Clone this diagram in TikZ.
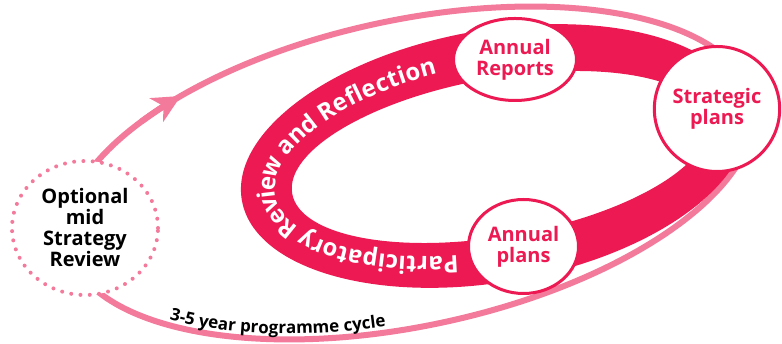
\documentclass[tikz,border=0pt]{standalone}
\usepackage{fontspec}
\setmainfont{Open Sans}
\usetikzlibrary{shapes.geometric, decorations.text, arrows.meta}
\definecolor{bandred}{RGB}{237,25,82}
\definecolor{pinkline}{RGB}{243,122,155}
\begin{document}
\begin{tikzpicture}[x=1pt,y=1pt,
  nodetext/.style={font=\bfseries\fontsize{20}{21}\selectfont, align=center, inner sep=0pt},
  stage/.style={ellipse, draw=bandred, line width=3pt, fill=white, text=bandred, nodetext},
  cycleline/.style={draw=pinkline, line width=6pt},
]
\useasboundingbox (0,0) rectangle (782,344);
% outer programme cycle
\draw[cycleline] (410,171) ellipse[x radius=350, y radius=153, rotate=12];
\begin{scope}[shift={(410,171)}, rotate=12]
  \draw[cycleline, -{Stealth[length=28pt,width=27pt,inset=8pt]}]
    (136:350 and 153) arc[start angle=136, end angle=126.5, x radius=350, y radius=153];
\end{scope}
% participatory band
\fill[bandred, even odd rule]
  (494,188) ellipse[x radius=256, y radius=126, rotate=10]
  (500,187) ellipse[x radius=211, y radius=79, rotate=10];
% nodes
\node[draw=pinkline, line width=4pt, dash pattern=on 0pt off 9.3pt, line cap=round,
      fill=white, ellipse, minimum width=146pt, minimum height=134pt, nodetext, text=black]
      (opt) at (85,116) {Optional\\mid\\Strategy\\Review};
\node[stage, minimum width=123pt, minimum height=82pt] (rep) at (515,284.5) {Annual\\Reports};
\node[stage, minimum width=110pt, minimum height=94pt] (apl) at (523.5,97.5) {Annual\\plans};
\node[stage, minimum width=121pt, minimum height=125pt] (stp) at (717,235) {Strategic\\plans};
% band text
\path[decorate, decoration={text along path, text align=fit to path, raise=-8.5pt, text color=white,
      text={|\bfseries\fontsize{24}{24}\selectfont|Participatory Review and Reflection}}]
  plot[domain=0:1, samples=70, variable=\s]
  ({497 + 230*cos(-104-155*\s) - 17.8*sin(-104-155*\s)},
   {187.5 + 40.6*cos(-104-155*\s) + 101*sin(-104-155*\s)});
% cycle label
\path[decorate, decoration={text along path, text align=center, text color=black,
      text={|\bfseries\fontsize{17}{17}\selectfont|3-5 year programme cycle}}]
  plot[domain=0:1, samples=40, variable=\s]
  ({410 + 336.4*cos(-141+42*\s) - 30.8*sin(-141+42*\s)},
   {171 + 71.8*cos(-141+42*\s) + 143.8*sin(-141+42*\s)});
\end{tikzpicture}
\end{document}
